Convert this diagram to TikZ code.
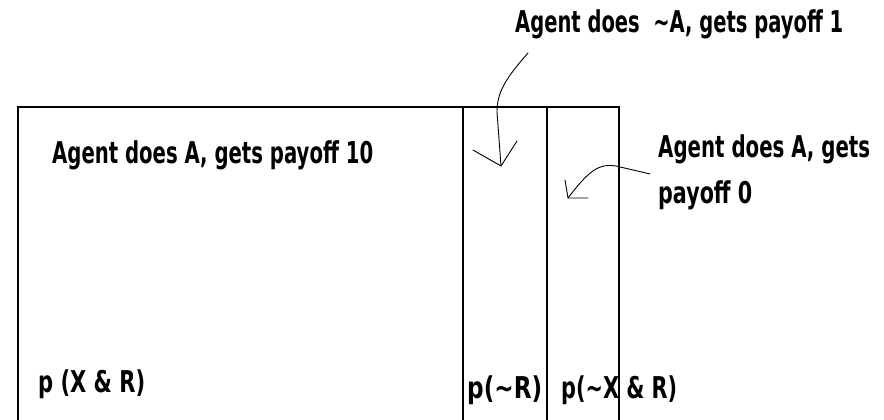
\documentclass[tikz,border=0pt]{standalone}
\usepackage{fontspec}
\usepackage{graphicx}
\setmainfont{DejaVu Sans}
\newcommand\pixw[2]{\resizebox{#1}{\height}{\bfseries #2}}
\tikzset{
  lbl/.style={anchor=base west, inner sep=0pt, font=\fontsize{30}{30}\selectfont},
  frame/.style={line width=1.3pt, line cap=rect},
  hand/.style={line width=0.9pt, line join=round, line cap=round},
}
\begin{document}
\begin{tikzpicture}[x=1pt, y=-1pt]
\useasboundingbox (0,0) rectangle (884,420);
% frame of the probability space
\coordinate (tl) at (18,107);
\coordinate (tr) at (619,107);
\coordinate (d1) at (463,107);
\coordinate (d2) at (547,107);
\draw[frame] (18,425) -- (tl) -- (tr) -- (619,425);
\draw[frame] (d1) -- (463,425);
\draw[frame] (d2) -- (547,425);
% labels
\node[lbl] (top) at (515,33) {\pixw{328pt}{Agent does\ \ \textasciitilde A, gets payoff 1}};
\node[lbl] (main) at (52,163) {\pixw{321pt}{Agent does A, gets payoff 10}};
\node[lbl] (r1) at (658,157) {\pixw{212pt}{Agent does A, gets}};
\node[lbl] (r2) at (658,203) {\pixw{94pt}{payoff 0}};
\node[lbl] (pxr) at (38,392) {\pixw{107pt}{p (X \& R)}};
\node[lbl] (pnr) at (467,398) {\pixw{75pt}{p(\textasciitilde R)}};
\node[lbl] (pnxr) at (561,398) {\pixw{116pt}{p(\textasciitilde X \& R)}};
% arrow 1
\coordinate (a1s) at (528,53);
\coordinate (a1t) at (501,166);
\draw[hand] (a1s) .. controls (506,78) and (497,92) .. (497,112) -- (a1t);
\draw[hand] (473,150) -- (a1t) -- (517,141);
% arrow 2
\coordinate (a2s) at (650,174);
\coordinate (a2t) at (568,198);
\draw[hand] (a2s) -- (616,166) .. controls (598,163) and (588,172) .. (a2t);
\draw[hand] (565,180) -- (a2t) -- (588,198);
\end{tikzpicture}
\end{document}
